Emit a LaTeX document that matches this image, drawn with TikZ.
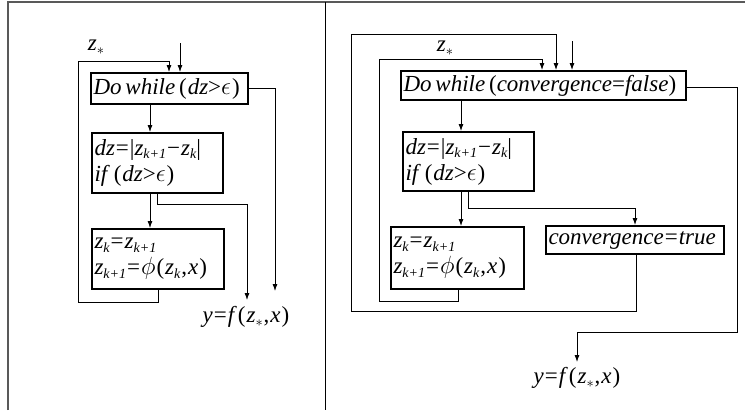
\documentclass[tikz,border=0pt]{standalone}
\usepackage{fontspec}
\setmainfont{Liberation Serif}
\usetikzlibrary{arrows.meta}
\newcommand\ii[1]{\textit{#1}}
\newcommand\sbs[1]{\raisebox{-0.3ex}{\fontsize{14}{14}\selectfont\itshape #1}}
\newcommand\eps{\ensuremath{\epsilon}}
\newcommand\ph{\ensuremath{\phi}}
\newcommand\eqs{\kern1pt=\kern1pt}
\newcommand\zst{\ii{z}\raisebox{-0.4ex}{\fontsize{14}{14}\selectfont$*$}}
\tikzset{
  box/.style={draw,line width=2pt,inner sep=2.5pt,align=left,anchor=center},
  arr/.style={line width=0.8pt,-{Latex[length=7pt,width=5pt]}},
  lbl/.style={inner sep=0pt},
  every node/.style={font=\fontsize{23}{26}\selectfont}
}
\begin{document}
\begin{tikzpicture}[x=1pt,y=-1pt]
\useasboundingbox (0,0) rectangle (746,410);
% frame
\draw[line width=1.6pt,draw=black!65] (8,410) -- (8,2) -- (745,2);
\draw[line width=0.9pt] (325,2) -- (325,410);
% ---------- left panel
\node[box,minimum width=157pt,minimum height=31pt,text width=152pt] (L1) at (169.5,88.5) {\ii{Do\,while}\,(\kern1pt\ii{dz}>\eps\kern1pt)};
\node[box,minimum width=131pt,minimum height=60pt,text width=126pt] (L2) at (157.5,163)
  {\ii{dz}\eqs|\ii{z}\sbs{k+1}\kern1pt−\kern1pt\ii{z}\sbs{k}|\\ \ii{if}\,(\kern1pt\ii{dz}>\eps\kern1pt)};
\node[box,minimum width=132pt,minimum height=60pt,text width=127pt] (L3) at (158,259)
  {\ii{z}\sbs{k}\eqs\ii{z}\sbs{k+1}\\ \ii{z}\sbs{k+1}\eqs\ph\kern1pt(\kern1pt\ii{z}\sbs{k}\kern1pt,\kern1pt\ii{x}\kern1pt)};
\node[lbl] (Ly) at (246,317) {\ii{y}\kern1pt=\kern1pt\ii{f}\kern1pt(\kern1pt\zst\kern1pt,\kern1pt\ii{x}\kern1pt)};
\node[lbl] (Lz) at (96,47) {\zst};
\coordinate (Lin) at (180,43);
\draw[arr] (Lin) -- (Lin |- L1.north);
\draw[arr] (L1.south -| 150,0) -- (L2.north -| 150,0);
\draw[arr] (L2.south -| 150,0) -- (L3.north -| 150,0);
\draw[arr] (L2.south -| 157,0) -- (157,204) -- (247,204) -- (247,300);
\draw[arr] (L1.east |- 0,88) -- (275,88) -- (275,291);
\draw[arr] (L3.south -| 158,0) -- (158,302) -- (78,302) -- (78,61) -- (169,61) -- (L1.north -| 169,0);
% ---------- right panel
\node[box,minimum width=285pt,minimum height=29pt,text width=280pt] (R1) at (543.5,85.5)
  {\ii{Do\,while}\,(\ii{convergence}=\ii{false})};
\node[box,minimum width=131pt,minimum height=59pt,text width=126pt] (R2) at (468.5,161.5)
  {\ii{dz}\eqs|\ii{z}\sbs{k+1}\kern1pt−\kern1pt\ii{z}\sbs{k}|\\ \ii{if}\,(\kern1pt\ii{dz}>\eps\kern1pt)};
\node[box,minimum width=133pt,minimum height=62pt,text width=128pt] (R3) at (457.5,258)
  {\ii{z}\sbs{k}\eqs\ii{z}\sbs{k+1}\\ \ii{z}\sbs{k+1}\eqs\ph\kern1pt(\kern1pt\ii{z}\sbs{k}\kern1pt,\kern1pt\ii{x}\kern1pt)};
\node[box,minimum width=178pt,minimum height=28pt,text width=173pt] (R4) at (635,240)
  {\ii{convergence}\eqs\ii{true}};
\node[lbl] (Ry) at (577,378) {\ii{y}\kern1pt=\kern1pt\ii{f}\kern1pt(\kern1pt\zst\kern1pt,\kern1pt\ii{x}\kern1pt)};
\node[lbl] (Rz) at (445,48) {\zst};
\coordinate (Rin) at (572,41);
\draw[arr] (Rin) -- (Rin |- R1.north);
\draw[arr] (R1.south -| 461,0) -- (R2.north -| 461,0);
\draw[arr] (R2.south -| 461,0) -- (R3.north -| 461,0);
\draw[arr] (R2.south -| 468,0) -- (468,208) -- (635,208) -- (R4.north -| 635,0);
\draw[arr] (R4.south -| 636,0) -- (636,311) -- (351,311) -- (351,34) -- (556,34) -- (R1.north -| 556,0);
\draw[arr] (R3.south -| 458,0) -- (458,301) -- (379,301) -- (379,59) -- (542,59) -- (R1.north -| 542,0);
\draw[arr] (R1.east |- 0,87) -- (737,87) -- (737,332) -- (577,332) -- (577,362);
\end{tikzpicture}
\end{document}
